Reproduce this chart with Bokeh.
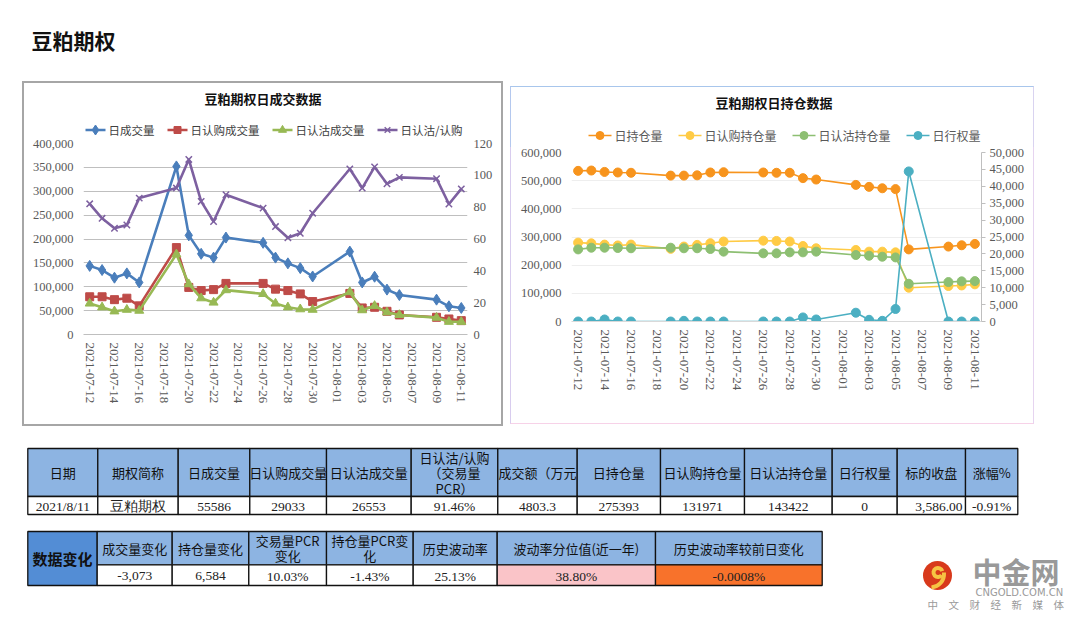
import math
import pandas as pd
from bokeh.plotting import figure
from bokeh.models import (Range1d, LinearAxis, NumeralTickFormatter, FixedTicker,
                          DatetimeTickFormatter, Spacer, ColumnDataSource, Label)
from bokeh.layouts import column, row
from bokeh.core.properties import value
from bokeh.embed import file_html
from bokeh.resources import INLINE

# ---------------- data ----------------
dates = ["2021-07-12", "2021-07-13", "2021-07-14", "2021-07-15", "2021-07-16",
         "2021-07-19", "2021-07-20", "2021-07-21", "2021-07-22", "2021-07-23",
         "2021-07-26", "2021-07-27", "2021-07-28", "2021-07-29", "2021-07-30",
         "2021-08-02", "2021-08-03", "2021-08-04", "2021-08-05", "2021-08-06",
         "2021-08-09", "2021-08-10", "2021-08-11"]
volume = [143700, 135000, 119000, 128000, 109000, 352000, 207600, 169000, 161000, 203000,
          192000, 161000, 149000, 139000, 121500, 173600, 109000, 121000, 94000, 82600,
          73000, 59000, 55586]
call_volume = [79000, 79000, 73000, 76000, 60000, 182000, 98600, 92000, 94000, 107000,
               107000, 95000, 92000, 85000, 69000, 86000, 55600, 57000, 48600, 41000,
               36000, 32500, 29033]
put_volume = [65000, 57000, 48600, 52000, 50000, 168000, 105500, 76000, 67000, 93000,
              85000, 65000, 57000, 53000, 52000, 89000, 51000, 60000, 46500, 41000,
              35300, 26700, 26553]
pcr = [82.1, 73.0, 66.7, 68.8, 85.7, 92.0, 110.0, 83.6, 71.0, 87.8,
       79.4, 67.8, 60.8, 63.6, 76.2, 104.0, 92.0, 105.3, 94.7, 98.7,
       97.9, 82.0, 91.46]
open_interest = [534800, 536000, 531000, 529000, 528000, 518000, 518000, 519000, 529000, 530000,
                 529000, 528000, 528000, 509000, 504000, 485000, 478000, 473000, 470000, 256000,
                 266000, 270600, 275393]
call_oi = [280000, 277500, 273000, 270000, 273000, 258000, 266000, 272000, 278000, 284000,
           287000, 286000, 284000, 268000, 260000, 254000, 248000, 248000, 245500, 120000,
           126000, 128000, 131971]
put_oi = [256000, 262000, 262000, 261000, 260000, 262000, 260000, 260000, 257500, 248000,
          242000, 242000, 245500, 245500, 248000, 236000, 233500, 230000, 227500, 134000,
          140000, 142500, 143422]
exercise = [0, 0, 600, 0, 0, 0, 200, 0, 0, 0,
            0, 0, 0, 1200, 600, 2600, 500, 200, 3700, 44400,
            0, 0, 0]
date_ticks = ["2021-07-12", "2021-07-14", "2021-07-16", "2021-07-18", "2021-07-20",
              "2021-07-22", "2021-07-24", "2021-07-26", "2021-07-28", "2021-07-30",
              "2021-08-01", "2021-08-03", "2021-08-05", "2021-08-07", "2021-08-09",
              "2021-08-11"]

page_title = "豆粕期权"
left_title = "豆粕期权日成交数据"
right_title = "豆粕期权日持仓数据"
left_series = ["日成交量", "日认购成交量", "日认沽成交量", "日认沽/认购"]
right_series = ["日持仓量", "日认购持仓量", "日认沽持仓量", "日行权量"]

t1_headers = ["日期", "期权简称", "日成交量", "日认购成交量", "日认沽成交量",
              "日认沽/认购\n（交易量\nPCR）", "成交额（万元", "日持仓量", "日认购持仓量",
              "日认沽持仓量", "日行权量", "标的收盘", "涨幅%"]
t1_values = ["2021/8/11", "豆粕期权", "55586", "29033", "26553", "91.46%", "4803.3",
             "275393", "131971", "143422", "0", "3,586.00", "-0.91%"]
t2_label = "数据变化"
t2_headers = ["成交量变化", "持仓量变化", "交易量PCR\n变化", "持仓量PCR变\n化", "历史波动率",
              "波动率分位值(近一年)", "历史波动率较前日变化"]
t2_values = ["-3,073", "6,584", "10.03%", "-1.43%", "25.13%", "38.80%", "-0.0008%"]

logo_big = "中金网"
logo_url = "CNGOLD.COM.CN"
logo_sub = "中　文　财　经　新　媒　体"

# ---------------- style ----------------
CJK = "Noto Sans CJK SC"
NUM = "Liberation Serif"
BLUE, RED, GREEN, PURPLE = "#4A7EBB", "#BE4B48", "#98B954", "#7D60A0"
ORANGE, YELLOW, LGREEN, TEAL = "#F7941D", "#FFCB45", "#8DBF72", "#4BAFC2"
HEAD = "#8DB4E2"
PAGE_W = 1072
GRAY_BOX = "#A6A6A6"

x = pd.to_datetime(dates)
src = ColumnDataSource(dict(x=x, vol=volume, cv=call_volume, pv=put_volume, pcr=pcr,
                            oi=open_interest, coi=call_oi, poi=put_oi, ex=exercise))
tick_ms = [int(pd.Timestamp(d).value // 10**6) for d in date_ticks]
half_day = 12 * 3600 * 1000
xs, xe = tick_ms[0] - half_day, tick_ms[-1] + half_day


def canvas(w, h, x0, y0, css=None, bl=0, br=0):
    """A plain drawing surface whose data units are page pixels.
    bl/br: side borders (kept equal to the chart below it, whose frame it shares)."""
    f = figure(width=w, height=h, x_range=Range1d(x0 + bl, x0 + w - br),
               y_range=Range1d(y0 + h, y0),
               output_backend="svg", toolbar_location=None, min_border=0,
               min_border_left=bl, min_border_right=br,
               x_axis_location=None, y_axis_location=None, outline_line_color=None,
               border_fill_color=None, background_fill_color=None)
    f.grid.visible = False
    if css:
        f.stylesheets = [css]
    return f


def style_axis(ax, size="13px"):
    ax.major_label_text_font = NUM
    ax.major_label_text_font_size = size
    ax.major_label_text_color = "#595959"
    ax.axis_line_color = None
    ax.major_tick_line_color = None
    ax.minor_tick_line_color = None
    ax.major_tick_out = 0
    ax.major_tick_in = 0
    ax.minor_tick_out = 0
    ax.minor_tick_in = 0


def date_axis(ax):
    style_axis(ax, "13px")
    ax.ticker = FixedTicker(ticks=tick_ms)
    ax.formatter = DatetimeTickFormatter(days="%Y-%m-%d", months="%Y-%m-%d", hours="%Y-%m-%d")
    ax.major_label_orientation = -math.pi / 2
    ax.major_label_standoff = 8


def text_w(s, px=12.0):
    return sum(px if ord(c) > 255 else px * 0.5 for c in s)


def add_label(f, xx, yy, txt, size, color, align="left", bold=False):
    f.add_layout(Label(x=xx, y=yy, text=txt, text_font=CJK, text_font_size=f"{size}px",
                       text_color=color, text_align=align, text_baseline="middle",
                       text_font_style="bold" if bold else "normal"))


def draw_legend(f, labels, colors, markers, sizes, x0, y, glyph_w, spacing, lw, tcolor, fpx):
    cur = x0
    for lab, c, m, s in zip(labels, colors, markers, sizes):
        f.line([cur, cur + glyph_w], [y, y], color=c, line_width=lw)
        if m == "x":
            f.scatter([cur + glyph_w / 2], [y], marker=m, size=s, line_color=c, line_width=1.5)
        else:
            f.scatter([cur + glyph_w / 2], [y], marker=m, size=s, color=c)
        add_label(f, cur + glyph_w + 3, y, lab, fpx, tcolor)
        cur += glyph_w + 3 + text_w(lab, fpx) + spacing


# ---------------- page header ----------------
HH = 81
hdr = canvas(PAGE_W, HH, 0, 0)
hdr.text(x=[31], y=[39], text=[page_title], text_font=value(CJK), text_font_size="21px",
         text_font_style="bold", text_color="#111111", text_baseline="middle")

# ---------------- left block ----------------
LX, LW = 22, 481
LT_H, LC_H = 56, 289
BL = 2
L_MB_L, L_MB_R = 59, 38
topL = canvas(LW, LT_H, LX + BL, HH + BL, bl=L_MB_L, br=L_MB_R,
              css=f":host {{ border: {BL}px solid {GRAY_BOX}; border-bottom: none; }}")
add_label(topL, 262.5, 98, left_title, 13, "#111111", align="center", bold=True)
draw_legend(topL, left_series, [BLUE, RED, GREEN, PURPLE],
            ["diamond", "square", "triangle", "x"], [10, 7, 8, 8],
            85, 129.5, 20, 13, 2.6, "#404040", 11.5)

pl = figure(width=LW, height=LC_H, x_axis_type="datetime", x_range=Range1d(xs, xe),
            y_range=Range1d(0, 400000), output_backend="svg", toolbar_location=None,
            min_border_left=L_MB_L, min_border_right=L_MB_R, min_border_top=6,
            min_border_bottom=92, outline_line_color=None, border_fill_color=None)
pl.stylesheets = [f":host {{ border: {BL}px solid {GRAY_BOX}; border-top: none; }}"]
pl.extra_y_ranges = {"pcr": Range1d(0, 120)}
pl.add_layout(LinearAxis(y_range_name="pcr"), "right")
pl.xgrid.visible = False
pl.ygrid.grid_line_color = "#BFBFBF"
pl.ygrid.grid_line_width = 1
pl.yaxis[0].ticker = FixedTicker(ticks=list(range(0, 400001, 50000)))
pl.yaxis[0].formatter = NumeralTickFormatter(format="0,0")
pl.yaxis[1].ticker = FixedTicker(ticks=list(range(0, 121, 20)))
for ax in pl.yaxis:
    style_axis(ax, "12.5px")
pl.yaxis[0].major_label_standoff = 10
pl.yaxis[1].major_label_standoff = 6
date_axis(pl.xaxis[0])
pl.xaxis[0].axis_line_color = "#BFBFBF"

pl.line("x", "vol", source=src, color=BLUE, line_width=2.6)
pl.scatter("x", "vol", source=src, marker="diamond", size=11, color=BLUE)
pl.line("x", "cv", source=src, color=RED, line_width=2.6)
pl.scatter("x", "cv", source=src, marker="square", size=8, color=RED)
pl.line("x", "pv", source=src, color=GREEN, line_width=2.6)
pl.scatter("x", "pv", source=src, marker="triangle", size=9, color=GREEN)
pl.line("x", "pcr", source=src, color=PURPLE, line_width=2.6, y_range_name="pcr")
pl.scatter("x", "pcr", source=src, marker="x", size=9, line_width=1.5, line_color=PURPLE,
           y_range_name="pcr")

# ---------------- right block ----------------
RX, RW = 510, 524
RS, RT_H, RC_H = 5, 61, 277
BR = 1
R_MB_L, R_MB_R = 60, 54
topR = canvas(RW, RT_H, RX + BR, HH + RS + BR, bl=R_MB_L, br=R_MB_R,
              css=":host { border: 1px solid; border-bottom: none; "
                  "border-color: #A8C6EC #D9D3F0 #F7D2E8 #B4C8EE; }")
add_label(topR, 773.5, 102, right_title, 13, "#111111", align="center", bold=True)
draw_legend(topR, right_series, [ORANGE, YELLOW, LGREEN, TEAL],
            ["circle"] * 4, [8, 8, 8, 8], 588, 135, 23, 16, 1.6, "#595959", 12)

pr = figure(width=RW, height=RC_H, x_axis_type="datetime", x_range=Range1d(xs, xe),
            y_range=Range1d(0, 600000), output_backend="svg", toolbar_location=None,
            min_border_left=R_MB_L, min_border_right=R_MB_R, min_border_top=5,
            min_border_bottom=103, outline_line_color=None, border_fill_color=None)
pr.stylesheets = [":host { border: 1px solid; border-top: none; "
                  "border-color: #A8C6EC #E6D4F0 #F7D2E8 #D8CCEE; }"]
pr.extra_y_ranges = {"ex": Range1d(0, 50000)}
pr.add_layout(LinearAxis(y_range_name="ex"), "right")
pr.xgrid.visible = False
pr.ygrid.grid_line_color = "#EEEEEE"
pr.yaxis[0].ticker = FixedTicker(ticks=list(range(0, 600001, 100000)))
pr.yaxis[0].formatter = NumeralTickFormatter(format="0,0")
pr.yaxis[1].ticker = FixedTicker(ticks=list(range(0, 50001, 5000)))
pr.yaxis[1].formatter = NumeralTickFormatter(format="0,0")
for ax in pr.yaxis:
    style_axis(ax, "12.5px")
pr.yaxis[0].major_label_standoff = 10
pr.yaxis[1].axis_line_color = "#BFBFBF"
pr.yaxis[1].major_tick_line_color = "#BFBFBF"
pr.yaxis[1].major_tick_out = 4
pr.yaxis[1].major_tick_in = 0
pr.yaxis[1].major_label_standoff = 4
date_axis(pr.xaxis[0])
pr.xaxis[0].axis_line_color = "#D9D9D9"

pr.line("x", "oi", source=src, color=ORANGE, line_width=1.6)
pr.scatter("x", "oi", source=src, marker="circle", size=9, color=ORANGE)
pr.line("x", "coi", source=src, color=YELLOW, line_width=1.6)
pr.scatter("x", "coi", source=src, marker="circle", size=9, color=YELLOW)
pr.line("x", "poi", source=src, color=LGREEN, line_width=1.6)
pr.scatter("x", "poi", source=src, marker="circle", size=9, color=LGREEN)
pr.line("x", "ex", source=src, color=TEAL, line_width=1.6, y_range_name="ex")
pr.scatter("x", "ex", source=src, marker="circle", size=9, color=TEAL, y_range_name="ex")

# ---------------- tables + logo ----------------
ROW_H = LT_H + LC_H
TOP = HH + ROW_H
TH = 623 - TOP
tb = canvas(PAGE_W, TH, 0, TOP)

e1 = [27.3, 97.3, 177.7, 249.3, 326, 410.7, 497.3, 576.7, 660, 744, 831.7, 896.7, 965, 1017.3]
y1a, y1b, y1c = 448, 496, 514
n1 = len(t1_headers)
tb.quad(left=e1[:-1], right=e1[1:], top=[y1a] * n1, bottom=[y1b] * n1,
        fill_color=HEAD, line_color="#111111", line_width=1.3)
tb.quad(left=e1[:-1], right=e1[1:], top=[y1b] * n1, bottom=[y1c] * n1,
        fill_color="white", line_color="#111111", line_width=1.3)
hx, hy, ht = [], [], []
for i, h in enumerate(t1_headers):
    lines = h.split("\n")
    for k, ln in enumerate(lines):
        hx.append((e1[i] + e1[i + 1]) / 2)
        hy.append((y1a + y1b) / 2 + (k - (len(lines) - 1) / 2) * 15.5)
        ht.append(ln)
tb.text(x=hx, y=hy, text=ht, text_align="center", text_baseline="middle",
        text_font=value(CJK), text_font_size="13px", text_color="#111111")
ALIGN_RIGHT = 11  # the close-price column is right-aligned
vx, va = [], []
for i in range(n1):
    if i == ALIGN_RIGHT:
        vx.append(e1[i + 1] - 3)
        va.append("right")
    else:
        vx.append((e1[i] + e1[i + 1]) / 2)
        va.append("center")
tb.text(x=vx, y=[(y1b + y1c) / 2 + 1] * n1, text=t1_values, text_align=va,
        text_baseline="middle", text_font=value(NUM), text_font_size="13.5px",
        text_color="#222222")

e2 = [27.3, 96.7, 171.7, 248.3, 326, 412.7, 496.7, 655, 821.7]
y2a, y2b, y2c = 531, 564.3, 585
n2 = len(t2_headers)
tb.quad(left=[e2[0]], right=[e2[1]], top=[y2a], bottom=[y2c], fill_color="#538DD5",
        line_color="#111111", line_width=1.3)
tb.text(x=[(e2[0] + e2[1]) / 2], y=[(y2a + y2c) / 2], text=[t2_label], text_align="center",
        text_baseline="middle", text_font=value(CJK), text_font_size="15px",
        text_font_style="bold", text_color="#111111")
tb.quad(left=e2[1:-1], right=e2[2:], top=[y2a] * n2, bottom=[y2b] * n2,
        fill_color=HEAD, line_color="#111111", line_width=1.3)
val_fill = ["white"] * (n2 - 2) + ["#FAC4C8", "#F8722B"]
tb.quad(left=e2[1:-1], right=e2[2:], top=[y2b] * n2, bottom=[y2c] * n2,
        fill_color=val_fill, line_color="#111111", line_width=1.3)
hx, hy, ht = [], [], []
for i, h in enumerate(t2_headers):
    lines = h.split("\n")
    for k, ln in enumerate(lines):
        hx.append((e2[i + 1] + e2[i + 2]) / 2)
        hy.append((y2a + y2b) / 2 + (k - (len(lines) - 1) / 2) * 15)
        ht.append(ln)
tb.text(x=hx, y=hy, text=ht, text_align="center", text_baseline="middle",
        text_font=value(CJK), text_font_size="13px", text_color="#111111")
tb.text(x=[(e2[i + 1] + e2[i + 2]) / 2 for i in range(n2)], y=[(y2b + y2c) / 2 + 1] * n2,
        text=t2_values, text_align="center", text_baseline="middle",
        text_font=value(NUM), text_font_size="13.5px", text_color="#222222")

# logo
tb.circle(x=[937], y=[575], radius=14.5, fill_color="#D8391B", line_color=None)
tb.annular_wedge(x=[937.5], y=[572], inner_radius=2.5, outer_radius=6.5,
                 start_angle=0.3, end_angle=2 * math.pi - 0.6, fill_color="#F6C343",
                 line_color=None)
tb.bezier(x0=[943.5], y0=[572], x1=[931], y1=[587], cx0=[944], cy0=[581], cx1=[938], cy1=[586],
          line_color="#F6C343", line_width=4)
tb.text(x=[972], y=[570.5], text=[logo_big], text_font=value(CJK), text_font_size="29px",
        text_font_style="bold", text_color="#999999", text_baseline="middle")
tb.text(x=[975], y=[591.5], text=[logo_url], text_font=value("DejaVu Sans"),
        text_font_size="10px", text_color="#9A9A9A", text_baseline="middle")
tb.text(x=[927], y=[603.5], text=[logo_sub], text_font=value(CJK), text_font_size="10.5px",
        text_color="#9A9A9A", text_baseline="middle")

layout = column(hdr,
                row(Spacer(width=LX, height=ROW_H), column(topL, pl),
                    Spacer(width=RX - LX - LW, height=ROW_H),
                    column(Spacer(width=RW, height=RS), topR, pr)),
                tb)

open("out.html", "w").write(file_html(layout, INLINE))
